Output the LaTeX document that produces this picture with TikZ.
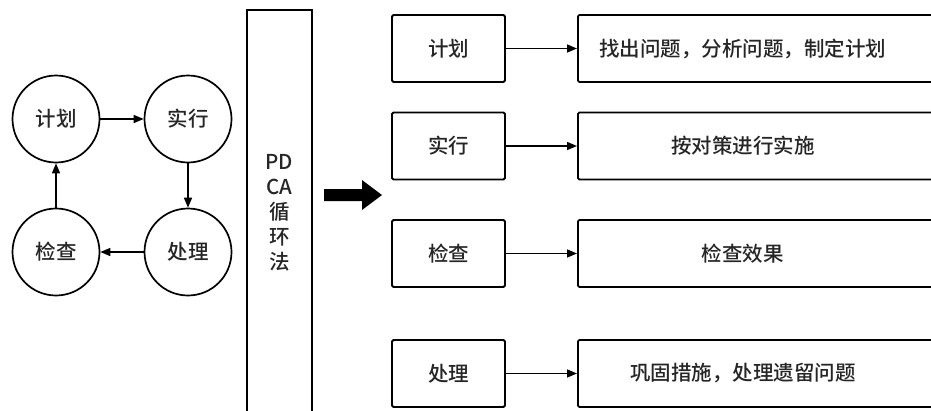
\documentclass[tikz,border=0pt]{standalone}
\usepackage{fontspec}
\newfontfamily\cjk{Noto Sans CJK SC Medium}
\usetikzlibrary{arrows.meta}
\begin{document}
\begin{tikzpicture}[x=1pt,y=-1pt,
  every node/.style={font=\cjk\fontsize{20.5}{25}\selectfont, text=black!85},
  cyc/.style={draw, circle, line width=1.7pt, minimum size=87pt, inner sep=0pt},
  lbox/.style={draw, rectangle, rounded corners=1.5pt, line width=1.8pt, minimum width=113pt, minimum height=67pt, inner sep=0pt},
  wbox/.style={draw, rectangle, rounded corners=1.5pt, line width=1.8pt, minimum height=67pt, inner sep=0pt, anchor=west},
  conn/.style={line width=1.5pt, -{Triangle[length=10pt,width=8pt]}}]
\useasboundingbox (0,0) rectangle (931,410);
\fill[white] (0,0) rectangle (931,410);
\clip (0,0) rectangle (931,410);

% cycle
\node[cyc] (c1) at (56,119) {计划};
\node[cyc] (c2) at (188,119) {实行};
\node[cyc] (c3) at (188,252) {处理};
\node[cyc] (c4) at (56,252) {检查};
\draw[conn] (c1) -- (c2);
\draw[conn] (c2) -- (c3);
\draw[conn] (c3) -- (c4);
\draw[conn] (c4) -- (c1);

% PDCA column
\node[draw, rectangle, line width=1.8pt, minimum width=65pt, minimum height=405pt, inner sep=0pt, align=center] (pdca) at (279.5,212.5) {PD\\CA\\循\\环\\法};

% big arrow
\fill[black] (324,189) -- (362,189) -- (362,180) -- (382,195) -- (362,210) -- (362,201) -- (324,201) -- cycle;

% right side
\node[lbox] (s1) at (448.5,48.5) {计划};
\node[lbox] (s2) at (448.5,146) {实行};
\node[lbox] (s3) at (448.5,253.5) {检查};
\node[lbox] (s4) at (448.5,373.5) {处理};

\node[wbox] (w1) at (577,48.5) {\hbox to 380pt{\hbox to 330pt{\hss 找出问题，分析问题，制定计划\hss}\hss}};
\node[wbox] (w2) at (577,146) {\hbox to 380pt{\hbox to 330pt{\hss 按对策进行实施\hss}\hss}};
\node[wbox] (w3) at (577,253.5) {\hbox to 380pt{\hbox to 330pt{\hss 检查效果\hss}\hss}};
\node[wbox] (w4) at (577,373.5) {\hbox to 380pt{\hbox to 330pt{\hss 巩固措施，处理遗留问题\hss}\hss}};

\draw[conn] (s1) -- (w1.west);
\draw[conn] (s2) -- (w2.west);
\draw[conn] (s3) -- (w3.west);
\draw[conn] (s4) -- (w4.west);
\end{tikzpicture}
\end{document}
